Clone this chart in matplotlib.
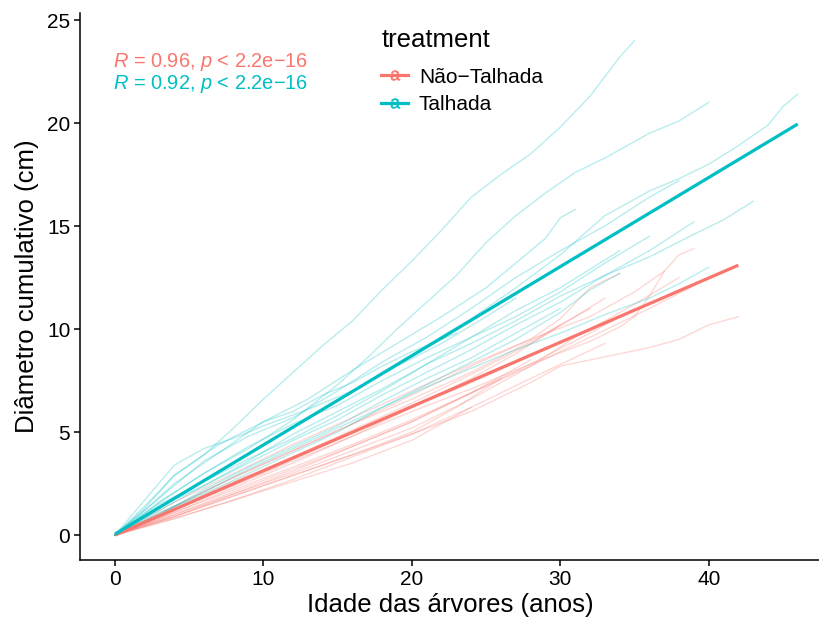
import matplotlib
matplotlib.use("Agg")
import matplotlib.pyplot as plt
from matplotlib.lines import Line2D

plt.rcParams['font.family'] = ['Liberation Sans', 'DejaVu Sans']
plt.rcParams['mathtext.fontset'] = 'custom'
plt.rcParams['mathtext.rm'] = 'Liberation Sans'
plt.rcParams['mathtext.it'] = 'Liberation Sans:italic'
plt.rcParams['mathtext.sf'] = 'Liberation Sans'

# groups
groups = ["Não−Talhada", "Talhada"]
colors = {"Não−Talhada": "#F8766D", "Talhada": "#00BFC4"}
cor_labels = {"Não−Talhada": (0.96, "2.2e−16"), "Talhada": (0.92, "2.2e−16")}

# individual trees, Talhada (age in years, cumulative diameter in cm)
tal_ages = [
    [0, 2, 4, 6, 8, 10, 12, 14, 16, 18, 20, 22, 24, 26, 28, 30, 32, 34, 35],
    [0, 3, 6, 9, 12, 15, 17, 19, 21, 23, 25, 27, 29, 31, 33, 36, 38, 40],
    [0, 3, 6, 9, 12, 15, 18, 21, 24, 27, 30, 33, 36, 38, 40, 42, 43, 44, 45, 46],
    [0, 3, 6, 9, 12, 15, 18, 21, 24, 27, 30, 33, 36, 39, 41, 43],
    [0, 2, 4, 7, 10, 13, 16, 19, 22, 25, 27, 29, 30, 31],
    [0, 3, 6, 9, 12, 15, 18, 21, 24, 27, 30, 33, 36, 38, 40],
    [0, 3, 6, 9, 12, 15, 18, 21, 24, 27, 30, 33, 36, 38],
    [0, 3, 6, 9, 12, 15, 18, 21, 24, 27, 30, 32, 34],
    [0, 2, 4, 6, 8, 10, 13, 16, 19, 22, 25, 27],
    [0, 3, 6, 9, 12, 15, 18, 21, 24, 27, 30, 33, 36],
    [0, 3, 6, 9, 12, 15, 18, 21, 24, 27, 30],
    [0, 2, 4, 6, 8, 10, 12, 14, 16, 18, 20, 23],
    [0, 3, 6, 9, 12, 15, 18, 21, 24, 27, 30, 34],
    [0, 3, 6, 9, 12, 15, 18, 21, 24, 27, 30, 33, 36, 39],
]
tal_diam = [
    [0, 1.4, 2.9, 3.9, 5.2, 6.6, 7.9, 9.2, 10.4, 11.9, 13.3, 14.8, 16.4, 17.5, 18.5, 19.8, 21.3, 23.2, 24.0],
    [0, 1.6, 3.0, 4.2, 5.6, 7.3, 8.6, 10.0, 11.3, 12.6, 14.2, 15.5, 16.6, 17.6, 18.3, 19.5, 20.1, 21.0],
    [0, 1.5, 2.6, 3.9, 5.2, 6.5, 7.9, 9.2, 10.5, 12.0, 13.6, 15.5, 16.7, 17.3, 18.0, 18.9, 19.4, 19.9, 20.8, 21.4],
    [0, 1.3, 2.6, 3.7, 4.7, 5.8, 7.0, 8.3, 9.3, 10.4, 11.6, 12.6, 13.5, 14.6, 15.3, 16.2],
    [0, 1.3, 2.9, 4.4, 5.5, 6.6, 8.0, 9.3, 10.6, 12.0, 13.2, 14.4, 15.4, 15.8],
    [0, 1.0, 2.1, 3.2, 4.2, 5.2, 6.2, 7.2, 8.1, 9.0, 9.8, 10.7, 11.5, 12.2, 13.0],
    [0, 1.8, 3.6, 4.8, 5.7, 7.0, 8.4, 9.6, 11.0, 12.5, 13.8, 15.0, 16.4, 17.2],
    [0, 1.1, 2.0, 3.0, 4.0, 5.0, 6.2, 7.3, 8.4, 9.5, 10.8, 11.9, 12.7],
    [0, 1.7, 3.4, 4.2, 4.7, 5.3, 6.1, 7.0, 8.2, 9.3, 10.6, 11.5],
    [0, 1.4, 2.4, 3.6, 4.9, 6.0, 7.1, 8.3, 9.6, 10.6, 11.8, 13.2, 14.5],
    [0, 1.0, 2.2, 3.3, 4.3, 5.3, 6.5, 7.6, 8.6, 9.8, 11.0],
    [0, 1.2, 2.5, 3.5, 4.5, 5.5, 6.0, 6.8, 7.4, 8.2, 8.9, 9.8],
    [0, 1.6, 3.0, 4.3, 5.4, 6.3, 7.5, 8.6, 9.6, 10.9, 12.0, 13.8],
    [0, 1.2, 2.4, 3.5, 4.6, 5.6, 6.8, 7.9, 9.0, 10.2, 11.3, 12.6, 13.8, 15.2],
]

# individual trees, Não-Talhada
nao_ages = [
    [0, 4, 8, 12, 16, 20, 24, 28, 30, 32, 34, 36, 38, 40, 42],
    [0, 4, 8, 12, 16, 20, 24, 28, 32, 34, 35, 36, 37, 38, 39],
    [0, 4, 8, 12, 16, 20, 24, 28, 32, 35, 38],
    [0, 4, 8, 12, 16, 20, 24, 28, 30, 32, 34],
    [0, 4, 8, 12, 16, 20, 24, 28, 32, 35, 37],
    [0, 4, 8, 12, 16, 20, 24, 28, 31, 33],
    [0, 4, 8, 12, 16, 20, 24, 27, 30],
    [0, 4, 8, 12, 16, 20, 24, 28],
    [0, 4, 8, 12, 16, 20, 24, 28, 32, 35],
    [0, 4, 8, 12, 16, 20, 24, 28, 31],
    [0, 4, 8, 12, 16, 20, 23, 26],
    [0, 4, 8, 12, 16, 20, 24, 28, 32, 36, 39],
    [0, 4, 8, 12, 16, 20, 24, 28, 32],
    [0, 4, 8, 12, 16, 20, 24],
    [0, 4, 8, 12, 16, 20, 24, 28, 33],
]
nao_diam = [
    [0, 0.9, 1.9, 2.9, 3.9, 4.9, 6.0, 7.4, 8.2, 8.5, 8.8, 9.1, 9.5, 10.2, 10.6],
    [0, 1.2, 2.4, 3.6, 4.8, 6.0, 7.1, 8.3, 9.4, 10.1, 10.6, 11.6, 12.8, 13.6, 13.9],
    [0, 1.3, 2.6, 3.8, 5.0, 6.2, 7.4, 8.7, 10.0, 11.2, 12.5],
    [0, 1.6, 3.0, 4.4, 5.7, 7.0, 8.3, 9.5, 10.5, 12.0, 12.7],
    [0, 1.4, 2.8, 4.1, 5.4, 6.8, 8.2, 9.5, 10.6, 11.8, 12.8],
    [0, 1.2, 2.5, 3.8, 5.1, 6.4, 7.8, 9.3, 10.6, 11.5],
    [0, 1.1, 2.3, 3.5, 4.8, 6.2, 7.6, 8.8, 10.2],
    [0, 0.9, 2.0, 3.1, 4.3, 5.5, 6.9, 8.5],
    [0, 1.0, 2.1, 3.2, 4.3, 5.5, 6.9, 8.3, 9.8, 11.0],
    [0, 1.0, 2.0, 3.0, 4.1, 5.2, 6.6, 8.2, 9.6],
    [0, 0.9, 1.9, 2.9, 3.9, 5.0, 6.2, 7.6],
    [0, 1.1, 2.2, 3.3, 4.4, 5.6, 6.9, 8.2, 9.6, 11.0, 12.1],
    [0, 1.4, 2.8, 4.1, 5.4, 6.6, 7.9, 9.4, 11.0],
    [0, 0.8, 1.7, 2.6, 3.5, 4.6, 6.2],
    [0, 0.8, 1.7, 2.7, 3.8, 4.9, 6.2, 7.6, 9.3],
]

trees = {"Não−Talhada": (nao_ages, nao_diam), "Talhada": (tal_ages, tal_diam)}

# linear fits (start / end)
fit_ages = {"Não−Talhada": [0, 42], "Talhada": [0, 46]}
fit_diam = {"Não−Talhada": [0.0, 13.1], "Talhada": [0.05, 19.95]}

fig = plt.figure(figsize=(8.2, 6.23), dpi=100)
ax = fig.add_axes([80 / 820, 1 - 560 / 623, 1 - 80 / 820, (560 - 13) / 623])

for g in groups:
    ages, diam = trees[g]
    for a, d in zip(ages, diam):
        ax.plot(a, d, color=colors[g], alpha=0.28, lw=1.0, zorder=2)

for g in groups:
    ax.plot(fit_ages[g], fit_diam[g], color=colors[g], lw=2.3, zorder=3,
            solid_capstyle='butt')

for i, g in enumerate(groups):
    r, p = cor_labels[g]
    ax.text(-0.15, 22.95 - i * 1.07, r"$\it{R}$ = %.2f, $\it{p}$ < %s" % (r, p),
            color=colors[g], fontsize=14.4, ha='left', va='center')

ax.set_xlim(-2.36, 47.5)
ax.set_ylim(-1.21, 25.34)
ax.set_xticks([0, 10, 20, 30, 40])
ax.set_yticks([0, 5, 10, 15, 20, 25])
for s in ['top', 'right']:
    ax.spines[s].set_visible(False)
for s in ['left', 'bottom']:
    ax.spines[s].set_linewidth(1.1)
ax.tick_params(length=4, width=1.1, labelsize=15, pad=3, colors='black')

ax.set_xlabel("Idade das árvores (anos)", fontsize=18.5, labelpad=3)
ax.set_ylabel("Diâmetro cumulativo (cm)", fontsize=18.5, labelpad=6)

handles = [Line2D([0], [0], color=colors[g], lw=2.3, marker=r'$\mathsf{a}$',
                  markersize=7, markeredgewidth=0.4) for g in groups]
leg = fig.legend(handles, groups, title="treatment", loc='upper left',
                 bbox_to_anchor=(373 / 820, 1 - 20 / 623), frameon=False,
                 fontsize=15, title_fontsize=18.5, handlelength=1.3,
                 handletextpad=0.5, labelspacing=0.4, alignment='left',
                 borderaxespad=0)
# extra gap between the legend title and the keys
leg._legend_box.sep = 11

fig.savefig("out.png", dpi=100)
